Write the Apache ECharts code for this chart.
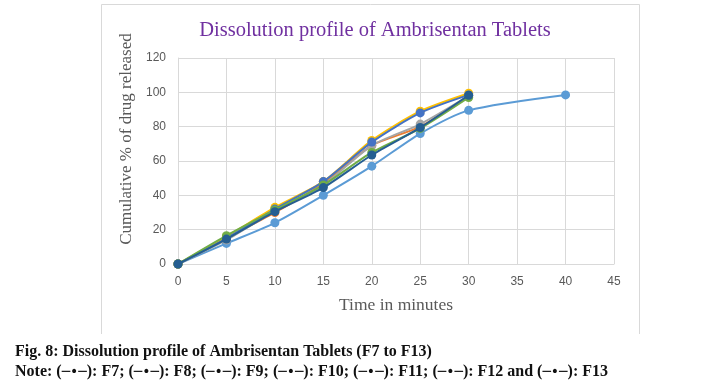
<!DOCTYPE html>
<html>
<head>
<meta charset="utf-8">
<script src="https://cdn.jsdelivr.net/npm/echarts@6/dist/echarts.min.js"></script>
<style>html,body{margin:0;padding:0;background:#fff;}#c{width:720px;height:384px;}</style>
</head>
<body>
<div id="c"></div>
<script>
var times = [0, 5, 10, 15, 20, 25, 30];
var timesF7 = [0, 5, 10, 15, 20, 25, 30, 40];
var F7  = [0, 12, 24, 40, 57, 76, 89.5, 98.5];
var F8  = [0, 15, 30, 47, 69, 80, 98];
var F9  = [0, 14, 31, 46, 69, 81.5, 98];
var F10 = [0, 16, 33, 48, 72, 89, 99.5];
var F11 = [0, 15, 32, 48, 71, 88, 98.5];
var F12 = [0, 16.5, 31.5, 46, 65, 79, 97];
var F13 = [0, 14.5, 30.5, 44.5, 63.5, 79.5, 98.3];
var seriesNames = ['F7', 'F8', 'F9', 'F10', 'F11', 'F12', 'F13'];
var colors = ['#5B9BD5', '#ED7D31', '#A5A5A5', '#FFC000', '#4472C4', '#70AD47', '#255E91'];
var titleText = 'Dissolution profile of Ambrisentan Tablets';
var xName = 'Time in minutes';
var yName = 'Cumulative % of drug released';
var caption1 = 'Fig. 8: Dissolution profile of Ambrisentan Tablets (F7 to F13)';

function pairs(xs, ys) { return ys.map(function (v, i) { return [xs[i], v]; }); }
var dataSets = [pairs(timesF7, F7), pairs(times, F8), pairs(times, F9), pairs(times, F10), pairs(times, F11), pairs(times, F12), pairs(times, F13)];

var series = dataSets.map(function (d, i) {
  return {
    name: seriesNames[i], type: 'line', data: d, smooth: 0.25,
    symbol: 'circle', symbolSize: 9,
    lineStyle: { width: 2, color: colors[i] },
    itemStyle: { color: colors[i] },
    z: 2 + i
  };
});

// caption note line with coloured symbols
var noteRich = { b: { fontFamily: 'Liberation Serif', fontWeight: 'bold', fontSize: 16, color: '#111' } };
var noteStr = '{b|Note: }';
seriesNames.forEach(function (n, i) {
  noteRich['s' + i] = { fontFamily: 'DejaVu Sans', fontSize: 14, color: colors[i] };
  var sep = i === seriesNames.length - 1 ? '' : (i === seriesNames.length - 2 ? ' and ' : '; ');
  noteStr += '{b|(}{s' + i + '|─•─}{b|): ' + n + sep + '}';
});

var chart = echarts.init(document.getElementById('c'));
chart.setOption({
  animation: false,
  backgroundColor: '#fff',
  title: {
    text: titleText, left: 370, top: 15, textAlign: 'center',
    textStyle: { fontFamily: 'Liberation Serif', fontWeight: 'normal', fontSize: 20.5, color: '#7030A0' }
  },
  grid: { left: 178, right: 106, top: 58, bottom: 120 },
  xAxis: {
    type: 'value', min: 0, max: 45, interval: 5,
    name: xName, nameLocation: 'middle', nameGap: 32,
    nameTextStyle: { fontFamily: 'Liberation Serif', fontSize: 17.5, color: '#595959' },
    axisLine: { lineStyle: { color: '#d9d9d9' } },
    axisTick: { show: false },
    axisLabel: { fontFamily: 'Liberation Sans', fontSize: 12, color: '#595959', margin: 12 },
    splitLine: { show: true, lineStyle: { color: '#d9d9d9' } }
  },
  yAxis: {
    type: 'value', min: 0, max: 120, interval: 20,
    axisLine: { show: true, lineStyle: { color: '#d9d9d9' } },
    axisTick: { show: false },
    axisLabel: { fontFamily: 'Liberation Sans', fontSize: 12, color: '#595959', margin: 12 },
    splitLine: { show: true, lineStyle: { color: '#d9d9d9' } }
  },
  graphic: [
    { type: 'polyline', shape: { points: [[101.5, 334], [101.5, 4.5], [639.5, 4.5], [639.5, 334]] }, style: { stroke: '#d9d9d9', fill: null, lineWidth: 1 }, silent: true },
    { type: 'text', x: 127, y: 139, rotation: Math.PI / 2, style: { text: yName, fontFamily: 'Liberation Serif', fontSize: 17, fill: '#595959', align: 'center', verticalAlign: 'middle' } },
    { type: 'text', left: 15, top: 344, style: { text: caption1, fontFamily: 'Liberation Serif', fontWeight: 'bold', fontSize: 16, fill: '#111' } },
    { type: 'text', left: 15, top: 364, style: { text: noteStr, rich: noteRich, fill: '#111' } }
  ],
  series: series
});
</script>
</body>
</html>
